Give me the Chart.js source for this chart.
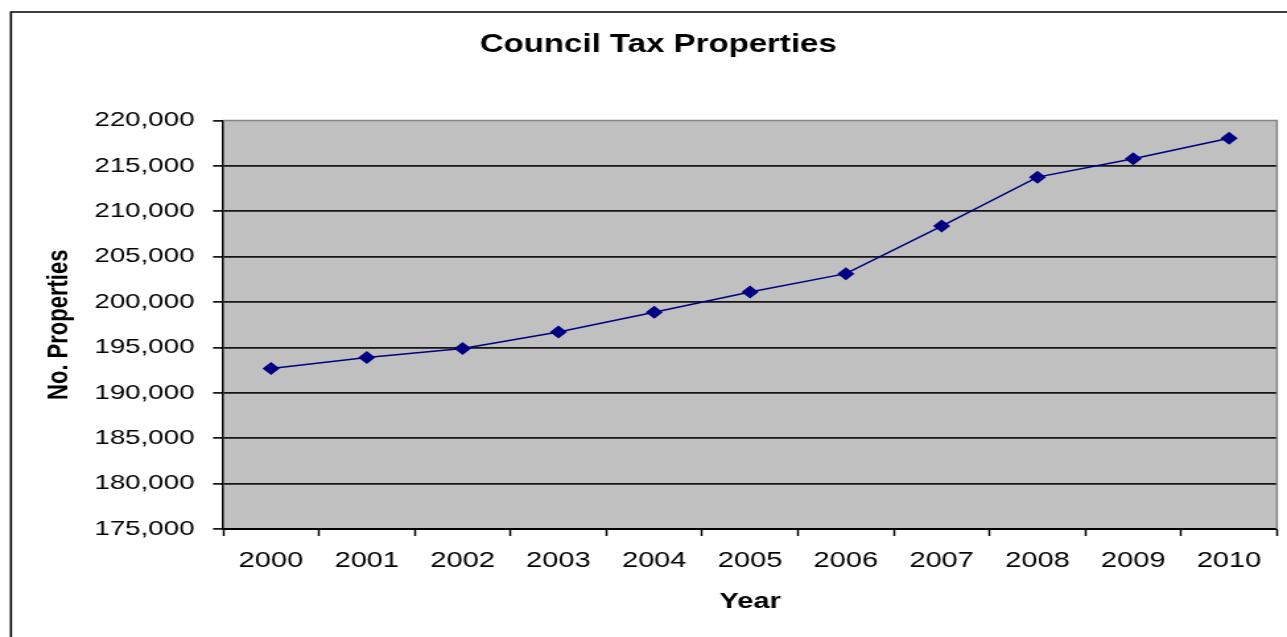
<!DOCTYPE html>
<html>
<head>
<meta charset="utf-8">
<title>Council Tax Properties</title>
<script src="https://cdn.jsdelivr.net/npm/chart.js@4.4.0/dist/chart.umd.min.js"></script>
<style>
  html, body { margin: 0; padding: 0; background: #fff; overflow: hidden; }
  /* the chart is laid out narrow and stretched sideways */
  #wrap { position: absolute; left: 0; top: 0; width: 975px; height: 637px;
          transform: scaleX(1.32); transform-origin: 0 0; }
</style>
</head>
<body>
<div id="wrap"><canvas id="chart" width="975" height="637"></canvas></div>
<script>
const years = ["2000", "2001", "2002", "2003", "2004", "2005", "2006", "2007", "2008", "2009", "2010"];
const properties = [192680, 193890, 194880, 196710, 198870, 201110, 203130, 208370, 213760, 215780, 218050];
const yTicks = [175000, 180000, 185000, 190000, 195000, 200000, 205000, 210000, 215000, 220000];

const FONT = "'Liberation Sans', Arial, sans-serif";

// grey plot background, grey top/right border and the outer frame
const plotBackground = {
  id: "plotBackground",
  beforeDraw(chart) {
    const { ctx, chartArea: a } = chart;
    ctx.save();
    ctx.strokeStyle = "#000";
    ctx.lineWidth = 1.6;
    ctx.beginPath();
    ctx.moveTo(8.3, chart.height);
    ctx.lineTo(8.3, 12);
    ctx.lineTo(chart.width, 12);
    ctx.stroke();
    ctx.fillStyle = "#c0c0c0";
    ctx.fillRect(a.left, a.top, a.right - a.left, a.bottom - a.top);
    ctx.restore();
  },
  afterDatasetsDraw(chart) {
    const { ctx, chartArea: a } = chart;
    ctx.save();
    ctx.strokeStyle = "#858585";
    ctx.lineWidth = 1.5;
    ctx.beginPath();
    ctx.moveTo(a.left, a.top);
    ctx.lineTo(a.right, a.top);
    ctx.lineTo(a.right, a.bottom);
    ctx.stroke();
    ctx.restore();
  }
};

new Chart(document.getElementById("chart"), {
  type: "line",
  data: {
    labels: years,
    datasets: [{
      data: properties,
      borderColor: "#000080",
      backgroundColor: "#000080",
      borderWidth: 1.5,
      pointStyle: "rectRot",
      pointRadius: 6.5,
      pointBorderWidth: 0,
      tension: 0
    }]
  },
  options: {
    responsive: false,
    animation: false,
    layout: { padding: { left: 30, right: 7.6, top: 0, bottom: 0 } },
    plugins: {
      legend: { display: false },
      tooltip: { enabled: false },
      title: {
        display: true,
        text: "Council Tax Properties",
        color: "#000",
        font: { family: FONT, size: 25, weight: "bold" },
        padding: { top: 30, bottom: 60.5 }
      }
    },
    scales: {
      x: {
        offset: true,
        afterFit(scale) { scale.height = 108; },
        grid: {
          offset: true,
          drawOnChartArea: false,
          tickLength: 7,
          tickColor: "#000",
          tickWidth: 1.5
        },
        border: { color: "#000", width: 2 },
        ticks: {
          color: "#000",
          padding: 12,
          autoSkip: false,
          maxRotation: 0,
          font: { family: FONT, size: 22 }
        },
        title: {
          display: true,
          text: "Year",
          color: "#000",
          font: { family: FONT, size: 22, weight: "bold" },
          padding: { top: 0, bottom: 21.8 }
        }
      },
      y: {
        min: yTicks[0],
        max: yTicks[yTicks.length - 1],
        afterFit(scale) { scale.width = 139; },
        afterBuildTicks(scale) { scale.ticks = yTicks.map(v => ({ value: v })); },
        grid: {
          color: ctx => (ctx.tick && ctx.tick.value === 220000 ? "rgba(0,0,0,0)" : "#161616"),
          lineWidth: 1.8,
          tickLength: 7.6,
          tickColor: "#000",
          tickWidth: 1.6
        },
        border: { color: "#000", width: 1.5 },
        ticks: {
          color: "#000",
          padding: 14,
          font: { family: FONT, size: 21 },
          callback: v => v.toLocaleString("en-GB")
        },
        title: {
          display: true,
          text: "No. Properties",
          color: "#000",
          font: { family: FONT, size: 22, weight: "bold" },
          padding: { top: 1.5, bottom: 0 }
        }
      }
    }
  },
  plugins: [plotBackground]
});
</script>
</body>
</html>
